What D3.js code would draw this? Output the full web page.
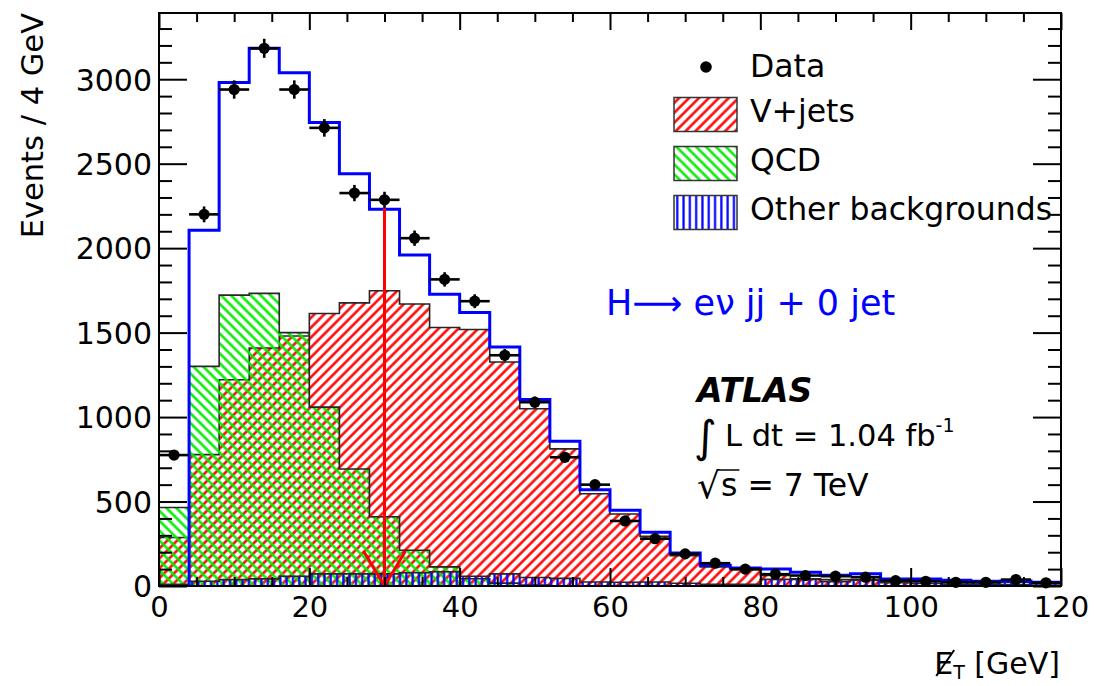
<!DOCTYPE html>
<html><head><meta charset="utf-8">
<script src="https://cdn.jsdelivr.net/npm/d3@7"></script>
<style>
body{margin:0;background:#fff;}
svg{display:block;}
text{font-family:"DejaVu Sans",sans-serif;}
</style>
</head><body>
<svg id="c" width="1094" height="686"></svg>
<script>
// ---- data (bins of 4 GeV from 0 to 120) ----
const binLow = [0,4,8,12,16,20,24,28,32,36,40,44,48,52,56,60,64,68,72,76,80,84,88,92,96,100,104,108,112,116];
const binWidth = 4;
const vjets = [287,778,1221,1409,1480,1613,1676,1748,1669,1530,1518,1326,1049,812,546,426,294,180,113,97,62,43,38,38,22,15,10,8,8,5];
const qcd   = [465,1300,1722,1732,1500,1059,693,410,212,113,43,17,5,0,0,0,0,0,0,0,0,0,0,0,0,0,0,0,0,0];
const other = [10,28,38,42,58,72,72,72,78,84,58,72,50,45,24,22,24,16,10,10,39,39,26,34,20,27,24,20,22,17];
const dataCounts = [775,2200,2939,3183,2939,2712,2326,2286,2059,1815,1686,1366,1088,762,600,385,280,190,135,100,70,62,58,52,32,28,22,22,38,19];
const xTicks = [0,20,40,60,80,100,120];
const xMinor = [5,10,15,25,30,35,45,50,55,65,70,75,85,90,95,105,110,115];
const yTicks = [0,500,1000,1500,2000,2500,3000];
const yMinor = [100,200,300,400,600,700,800,900,1100,1200,1300,1400,1600,1700,1800,1900,2100,2200,2300,2400,2600,2700,2800,2900,3100,3200,3300];
const legendLabels = ["Data","V+jets","QCD","Other backgrounds"];
const cutValue = 30;      // GeV, arrow position
const cutArrowTop = 2235; // events, arrow start
const channelLabel = "H\u27F6 e\u03BD jj + 0 jet";

// ---- layout ----
const svg = d3.select("#c");
const L = 159, R = 1061, T = 13, B = 586;
const x = d3.scaleLinear([0,120],[L,R]);
const y = d3.scaleLinear([0,3392],[B,T]);
const FONT = "DejaVu Sans, sans-serif";

const defs = svg.append("defs");
function hatch(id, color, angle, spacing, width){
  const p = defs.append("pattern").attr("id",id).attr("patternUnits","userSpaceOnUse")
    .attr("width",spacing).attr("height",spacing).attr("patternTransform",`rotate(${angle})`);
  p.append("line").attr("x1",spacing/2).attr("y1",-1).attr("x2",spacing/2).attr("y2",spacing+1)
    .attr("stroke",color).attr("stroke-width",width);
}
hatch("hR","#ff0000",45,7,2.5);
hatch("hG","#00ee00",-45,7,2.5);
hatch("hB","#0000ff",0,6.3,2.2);

defs.append("clipPath").attr("id","plotClip").append("rect")
  .attr("x",L).attr("y",T).attr("width",R-L).attr("height",B-T);

const line = d3.line().x(d=>x(d[0])).y(d=>y(d[1]));
function stepPts(vals, start=0){
  const pts = [[binLow[start],0]];
  for(let i=start;i<vals.length;i++){ pts.push([binLow[i],vals[i]]); pts.push([binLow[i]+binWidth,vals[i]]); }
  pts.push([binLow[vals.length-1]+binWidth,0]);
  return pts;
}

const plot = svg.append("g").attr("clip-path","url(#plotClip)");
[[vjets,"hR"],[qcd,"hG"],[other,"hB"]].forEach(([vals,pat])=>{
  plot.append("path").attr("d",line(stepPts(vals))+"Z")
    .attr("fill",`url(#${pat})`).attr("stroke","#262626").attr("stroke-width",1.6);
});

// total (sum of the three backgrounds), line drawn from bin 1
const total = vjets.map((v,i)=>v+qcd[i]+other[i]);
const totPts = [[binLow[1],0]];
for(let i=1;i<total.length;i++){ totPts.push([binLow[i],total[i]]); totPts.push([binLow[i]+binWidth,total[i]]); }
plot.append("path").attr("d",line(totPts)).attr("fill","none")
  .attr("stroke","#0000ff").attr("stroke-width",3);

// cut arrow
const ax = x(cutValue);
plot.append("line").attr("x1",ax).attr("x2",ax).attr("y1",y(cutArrowTop)).attr("y2",y(0))
  .attr("stroke","#ff0000").attr("stroke-width",3);
plot.append("path").attr("d",`M${ax-21},${y(0)-35}L${ax},${y(0)}L${ax+21},${y(0)-35}`)
  .attr("fill","none").attr("stroke","#ff0000").attr("stroke-width",3);

// data points
const dg = svg.append("g");
dataCounts.forEach((v,i)=>{
  const cx = x(binLow[i]+binWidth/2), e = Math.sqrt(v);
  dg.append("line").attr("x1",x(binLow[i])).attr("x2",x(binLow[i]+binWidth)).attr("y1",y(v)).attr("y2",y(v))
    .attr("stroke","#000").attr("stroke-width",2.6);
  dg.append("line").attr("x1",cx).attr("x2",cx).attr("y1",y(v-e)).attr("y2",y(v+e))
    .attr("stroke","#000").attr("stroke-width",2.6);
  dg.append("circle").attr("cx",cx).attr("cy",y(v)).attr("r",5.6).attr("fill","#000");
});

// ---- axes ----
function styleAxis(g){ g.select(".domain").remove(); g.selectAll("line").attr("stroke","#000").attr("stroke-width",2);
  g.selectAll("text").attr("font-family",FONT).attr("fill","#000"); }
svg.append("g").attr("transform",`translate(${L},0)`)
  .call(d3.axisLeft(y).tickValues(yTicks).tickSize(-28).tickPadding(7).tickFormat(d3.format("d")))
  .call(styleAxis).call(g=>g.selectAll("text").attr("font-size",30).attr("dy","0.36em"));
svg.append("g").attr("transform",`translate(${L},0)`)
  .call(d3.axisLeft(y).tickValues(yMinor).tickSize(-13).tickFormat("")).call(styleAxis);
svg.append("g").attr("transform",`translate(${R},0)`)
  .call(d3.axisRight(y).tickValues(yTicks).tickSize(-28).tickFormat("")).call(styleAxis);
svg.append("g").attr("transform",`translate(${R},0)`)
  .call(d3.axisRight(y).tickValues(yMinor).tickSize(-13).tickFormat("")).call(styleAxis);
svg.append("g").attr("transform",`translate(0,${B})`)
  .call(d3.axisBottom(x).tickValues(xTicks).tickSize(-18).tickPadding(10).tickFormat(d3.format("d")))
  .call(styleAxis).call(g=>g.selectAll("text").attr("font-size",29));
svg.append("g").attr("transform",`translate(0,${B})`)
  .call(d3.axisBottom(x).tickValues(xMinor).tickSize(-9).tickFormat("")).call(styleAxis);
svg.append("g").attr("transform",`translate(0,${T})`)
  .call(d3.axisTop(x).tickValues(xTicks).tickSize(-17).tickFormat("")).call(styleAxis);
svg.append("g").attr("transform",`translate(0,${T})`)
  .call(d3.axisTop(x).tickValues(xMinor).tickSize(-9).tickFormat("")).call(styleAxis);
svg.append("rect").attr("x",L).attr("y",T).attr("width",R-L).attr("height",B-T)
  .attr("fill","none").attr("stroke","#000").attr("stroke-width",2);

// axis titles
svg.append("text").attr("transform",`translate(43,${T}) rotate(-90)`).attr("text-anchor","end")
  .attr("font-size",30.5).text("Events / 4 GeV");
const xt = svg.append("text").attr("x",1060).attr("y",674).attr("text-anchor","end").attr("font-size",30);
xt.append("tspan").text("E");
xt.append("tspan").attr("font-size",19).attr("dy",5).text("T");
xt.append("tspan").attr("dy",-5).text(" [GeV]");
{
  const n = xt.node();
  const s = n.getStartPositionOfChar(0), e = n.getEndPositionOfChar(0);
  svg.append("line").attr("x1",s.x+2).attr("y1",s.y+2).attr("x2",e.x+1).attr("y2",s.y-24)
    .attr("stroke","#000").attr("stroke-width",2);
}

// ---- legend ----
const lg = svg.append("g");
lg.append("circle").attr("cx",706).attr("cy",67).attr("r",5.8).attr("fill","#000");
const pats = ["hR","hG","hB"];
[97.5,146.5,195.5].forEach((yy,i)=>{
  lg.append("rect").attr("x",674).attr("y",yy).attr("width",63).attr("height",34)
    .attr("fill",`url(#${pats[i]})`).attr("stroke","#333").attr("stroke-width",1.5);
});
[77,122,171,220].forEach((yy,i)=>{
  lg.append("text").attr("x",750).attr("y",yy).attr("font-size",31.5).text(legendLabels[i]);
});

// ---- labels ----
svg.append("text").attr("x",606).attr("y",315).attr("font-size",35).attr("fill","#0000ff").text(channelLabel);
svg.append("text").attr("x",697).attr("y",402).attr("font-size",33).attr("font-weight","bold")
  .attr("font-style","italic").text("ATLAS");
const lum = svg.append("text").attr("x",694).attr("y",446).attr("font-size",30.5);
lum.append("tspan").attr("font-size",44).attr("dy",6).text("\u222B");
lum.append("tspan").attr("dy",-6).attr("dx",8).text("L dt = 1.04 fb");
lum.append("tspan").attr("font-size",19).attr("dy",-14).text("-1");
const rs = svg.append("text").attr("x",697).attr("y",496).attr("font-size",31.5);
rs.append("tspan").attr("font-size",36).attr("dy",2).text("\u221A");
rs.append("tspan").attr("dy",-2).attr("dx",1).text("s = 7 TeV");
{
  const n = rs.node();
  const s = n.getStartPositionOfChar(1), e = n.getEndPositionOfChar(1);
  svg.append("line").attr("x1",s.x-1).attr("x2",e.x+2).attr("y1",470).attr("y2",470)
    .attr("stroke","#000").attr("stroke-width",1.5);
}
</script>
</body></html>
